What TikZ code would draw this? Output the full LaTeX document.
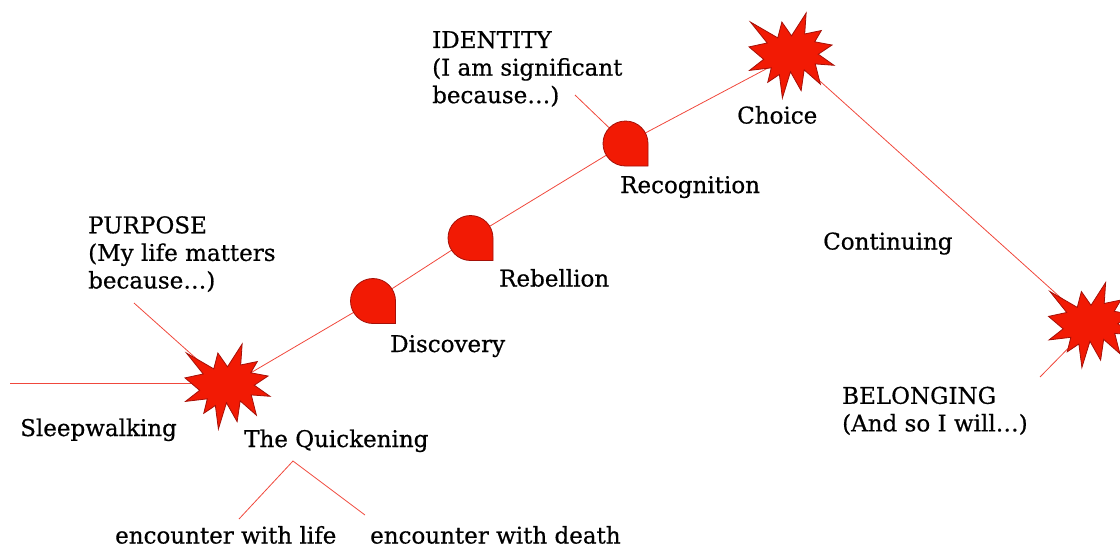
\documentclass[tikz,border=0pt]{standalone}
\usepackage{fontspec}
\setmainfont{DejaVu Serif}[FakeBold=0.6]
\definecolor{burstred}{RGB}{242,26,4}
\definecolor{burstedge}{RGB}{165,16,8}
\definecolor{linkred}{RGB}{240,72,60}
\tikzset{
  link/.style={draw=linkred, line width=0.8pt},
  shapefill/.style={fill=burstred, draw=burstedge, line width=0.8pt, line join=miter},
  lbl/.style={font=\fontsize{23}{27.6}\selectfont, inner sep=0pt, align=left, text=black},
  % irregular explosion outline, coordinates in percent of its bounding box
  burst/.pic={
    \path[shapefill, scale=0.85]
      (0,-23.15) -- (17.23,-50) -- (15.53,-25.35) -- (35.09,-29.37) --
      (27.32,-16.13) -- (47.67,-12.33) -- (31.51,-1.50) -- (50,11.53) --
      (27.95,9.92) -- (34.00,33.77) -- (14.91,16.93) -- (11.33,41.38) --
      (-1.24,19.14) -- (-10.72,50) -- (-14.28,22.35) -- (-27.95,31.56) --
      (-23.76,14.52) -- (-49.38,17.53) -- (-32.77,4.51) -- (-50,-10.12) --
      (-28.58,-14.74) -- (-48.29,-39.37) -- (-16.15,-20.74) -- (-11.33,-39.37) -- cycle;
  },
  % round marker with a square corner at the lower right
  drop/.pic={
    \path[shapefill]
      (22.5,0) -- (22.5,22.5) -- (0,22.5)
      .. controls (-12.43,22.5) and (-22.5,12.43) .. (-22.5,0)
      .. controls (-22.5,-12.43) and (-12.43,-22.5) .. (0,-22.5)
      .. controls (12.43,-22.5) and (22.5,-12.43) .. (22.5,0) -- cycle;
  },
}
\begin{document}
\begin{tikzpicture}[x=1pt,y=-1pt]
\useasboundingbox (0,0) rectangle (1120,549);
\clip (0,0) rectangle (1120,549);

% stage centres
\coordinate (quick)  at (227.5,386.5);
\coordinate (disc)   at (373,301);
\coordinate (rebel)  at (470.5,238);
\coordinate (recog)  at (625.5,143.5);
\coordinate (choice) at (791.5,55.5);
\coordinate (belong) at (1091,325);

% free ends of the pointer lines
\coordinate (sleepend)    at (10,383);
\coordinate (purposetip)  at (134,303);
\coordinate (identitytip) at (575,95);
\coordinate (belongtip)   at (1040,377);
\coordinate (fork)        at (293,461);
\coordinate (lifeend)     at (239,519);
\coordinate (deathend)    at (365,515);

% connectors (drawn first, the markers cover their ends)
\draw[link] (sleepend) -- (sleepend -| quick);
\draw[link] (quick) -- (disc) -- (rebel) -- (recog) -- (choice) -- (belong);
\draw[link] (purposetip) -- (quick);
\draw[link] (identitytip) -- (recog);
\draw[link] (belongtip) -- (belong);
\draw[link] (lifeend) -- (fork) -- (deathend);

% markers
\pic at (quick)  {burst};
\pic at (choice) {burst};
\pic at (belong) {burst};
\pic at (disc)   {drop};
\pic at (rebel)  {drop};
\pic at (recog)  {drop};

% labels
\node[lbl, anchor=north west] (identity) at (432,31) {IDENTITY\\(I am significant\\because…)};
\node[lbl, anchor=north west] (purpose)  at (88,216)  {PURPOSE\\(My life matters\\because…)};
\node[lbl, anchor=north west] (belonging) at (842,386.5) {BELONGING\\(And so I will…)};

\node[lbl, anchor=base west] (choicelbl) at (737,123.5) {Choice};
\node[lbl, anchor=base west] (recoglbl)  at (620,193) {Recognition};
\node[lbl, anchor=base west] (contlbl)   at (823,249.5) {Continuing};
\node[lbl, anchor=base west] (rebellbl)  at (499,286.5) {Rebellion};
\node[lbl, anchor=base west] (disclbl)   at (390,352) {Discovery};
\node[lbl, anchor=base west] (sleeplbl)  at (20,436)  {Sleepwalking};
\node[lbl, anchor=base west] (quicklbl)  at (244,447) {The Quickening};
\node[lbl, anchor=base west] (lifelbl)   at (115,543.5) {encounter with life};
\node[lbl, anchor=base west] (deathlbl)  at (370,543.5) {encounter with death};
\end{tikzpicture}
\end{document}
